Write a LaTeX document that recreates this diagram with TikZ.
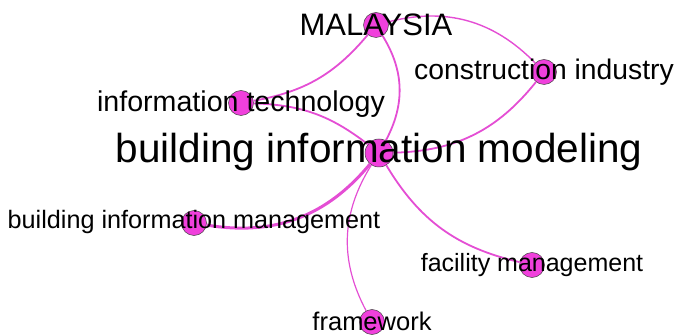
\documentclass[tikz,border=0pt]{standalone}
\usepackage{fontspec}
\setmainfont{Liberation Sans}
\usetikzlibrary{positioning}
\definecolor{kwpink}{RGB}{240,64,220}
\definecolor{linkpink}{RGB}{228,78,212}
\begin{document}
\begin{tikzpicture}[x=1pt,y=-1pt,kw/.style={circle,draw=black!75,line width=0.5pt,fill=kwpink,minimum size=25pt,inner sep=0pt},lbl/.style={anchor=base,inner sep=0pt,text=black},link/.style={draw=linkpink,line width=1.8pt},]
	    \useasboundingbox (0,0) rectangle (676,336);
	    % create the nodes
		    \node[kw] (mal) at (376,25) {}; %country
		    \node[kw] (ci) at (544,72) {};
		    \node[kw] (it) at (241,103) {};
		    \node[kw,minimum size=28pt] (bim) at (379,153) {}; %main keyword
		    \node[kw] (bimgt) at (194,223) {};
		    \node[kw] (fm) at (532,265) {};
		    \node[kw] (fw) at (372,322) {};
	    % links
		    \draw[link,line width=1.4pt] (mal) to[bend left=30] (ci);
		    \draw[link] (mal) to[bend left=20] (it);
		    \draw[link] (mal) to[bend left=30] (bim);
		    \draw[link] (ci) to[bend left=25] (bim);
		    \draw[link] (it) to[bend left=18] (bim);
		    \draw[link,line width=3pt] (bim) to[bend left=30] (bimgt);
		    \draw[link] (bim) to[bend right=23] (fm);
		    \draw[link,line width=1.2pt] (bim) to[bend right=30] (fw);
	    % labels
		    \node[lbl,font=\fontsize{31}{36}\selectfont] (tmal) at (376,36) {MALAYSIA};
		    \node[lbl,font=\fontsize{28.3}{34}\selectfont] (tci) at (544,80) {construction industry};
		    \node[lbl,font=\fontsize{28.6}{34}\selectfont] (tit) at (241,112) {information technology};
		    \node[lbl,font=\fontsize{40.5}{48}\selectfont] (tbim) at (379,163) {building information modeling};
		    \node[lbl,font=\fontsize{25.2}{30}\selectfont] (tbimgt) at (194,229) {building information management};
		    \node[lbl,font=\fontsize{25}{30}\selectfont] (tfm) at (532,272) {facility management};
		    \node[lbl,font=\fontsize{25.5}{30}\selectfont] (tfw) at (372,330) {framework};
		\end{tikzpicture}
\end{document}
